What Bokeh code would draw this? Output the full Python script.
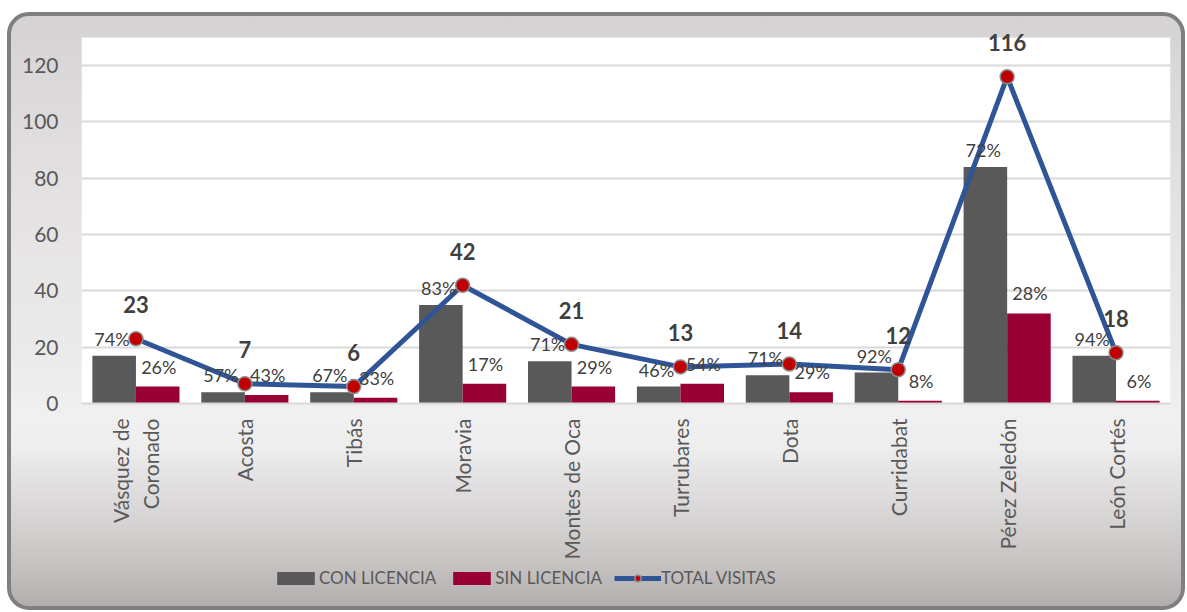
import math
from bokeh.plotting import figure
from bokeh.layouts import column
from bokeh.models import (ColumnDataSource, FactorRange, Range1d, FixedTicker,
                          BoxAnnotation, Legend, LegendItem, LabelSet, InlineStyleSheet)
from bokeh.transform import dodge
from bokeh.core.properties import value
from bokeh.embed import file_html
from bokeh.resources import INLINE

# ---------------- data ----------------
categories = ["Vásquez de\nCoronado", "Acosta", "Tibás", "Moravia", "Montes de Oca",
              "Turrubares", "Dota", "Curridabat", "Pérez Zeledón", "León Cortés"]
con_licencia = [17, 4, 4, 35, 15, 6, 10, 11, 84, 17]
sin_licencia = [6, 3, 2, 7, 6, 7, 4, 1, 32, 1]
total_visitas = [23, 7, 6, 42, 21, 13, 14, 12, 116, 18]
pct_con = ["74%", "57%", "67%", "83%", "71%", "46%", "71%", "92%", "72%", "94%"]
pct_sin = ["26%", "43%", "33%", "17%", "29%", "54%", "29%", "8%", "28%", "6%"]
y_ticks = [0, 20, 40, 60, 80, 100, 120]
y_top = 130
series_names = ["CON LICENCIA", "SIN LICENCIA", "TOTAL VISITAS"]

# colours
C_CON, C_SIN, C_LINE, C_PT = "#595959", "#990033", "#2f5597", "#c00000"

# ---------------- main figure ----------------
W = 1187
p = figure(x_range=FactorRange(*categories, range_padding=0),
           y_range=Range1d(0, 136),
           width=W, height=564,
           min_border_left=81, min_border_right=17, min_border_top=20, min_border_bottom=161,
           output_backend="svg", toolbar_location=None,
           background_fill_color=None, border_fill_color=None,
           outline_line_color=None)

# white plot area
p.add_layout(BoxAnnotation(top=y_top, level="image", fill_color="white",
                           fill_alpha=1, line_color=None))

# axes & grid
p.yaxis.ticker = FixedTicker(ticks=y_ticks)
p.yaxis.axis_line_color = None
p.yaxis.major_tick_line_color = None
p.yaxis.minor_tick_line_color = None
p.yaxis.major_tick_out = 0
p.yaxis.major_tick_in = 0
p.yaxis.major_label_text_font = "Lato"
p.yaxis.major_label_text_font_size = "21px"
p.yaxis.major_label_text_color = "#595959"
p.yaxis.major_label_standoff = 23

p.xaxis.major_label_orientation = math.pi / 2
p.xaxis.axis_line_color = "#d9d9d9"
p.xaxis.axis_line_width = 2
p.xaxis.major_tick_line_color = None
p.xaxis.minor_tick_line_color = None
p.xaxis.major_tick_out = 0
p.xaxis.major_tick_in = 0
p.xaxis.major_label_text_font = "Lato"
p.xaxis.major_label_text_font_size = "21px"
p.xaxis.major_label_text_color = "#595959"
p.xaxis.major_label_standoff = 15

p.xgrid.grid_line_color = None
p.ygrid.grid_line_color = "#d9d9d9"
p.ygrid.grid_line_width = 2

# glyphs
src = ColumnDataSource(dict(cat=categories, con=con_licencia, sin=sin_licencia,
                            total=total_visitas, pc=pct_con, ps=pct_sin))

p.vbar(x=dodge("cat", -0.2, range=p.x_range), top="con", width=0.4,
       source=src, fill_color=C_CON, line_color=None)
p.vbar(x=dodge("cat", 0.2, range=p.x_range), top="sin", width=0.4,
       source=src, fill_color=C_SIN, line_color=None)
p.line(x="cat", y="total", source=src, line_color=C_LINE, line_width=5)
p.scatter(x="cat", y="total", source=src, size=14, fill_color=C_PT,
          line_color="#8c8c8c", line_width=1.5)

# labels
lato = value("Lato")
p.add_layout(LabelSet(x=dodge("cat", -0.22, range=p.x_range), y="con", text="pc",
                      y_offset=17, text_align="center", text_baseline="middle",
                      text_font=lato, text_font_size="18px", text_color="#404040",
                      source=src))
p.add_layout(LabelSet(x=dodge("cat", 0.21, range=p.x_range), y="sin", text="ps",
                      y_offset=20, text_align="center", text_baseline="middle",
                      text_font=lato, text_font_size="18px", text_color="#404040",
                      source=src))
p.add_layout(LabelSet(x="cat", y="total", text="total",
                      y_offset=34, text_align="center", text_baseline="middle",
                      text_font=lato, text_font_size="22px", text_font_style="bold",
                      text_color="#404040", source=src))

# ---------------- legend strip ----------------
lg = figure(width=W, height=48, x_range=Range1d(0, 1), y_range=Range1d(0, 1),
            x_axis_type=None, y_axis_type=None, min_border=0,
            output_backend="svg", toolbar_location=None,
            background_fill_color=None, border_fill_color=None,
            outline_line_color=None)
lg.grid.visible = False
# legend key renderers (zero-height / off-range, so only their legend swatches show)
key = ColumnDataSource(dict(x=[-5], y=[0]))
g_con = lg.vbar(x="x", top="y", width=0.01, source=key, fill_color=C_CON, line_color=None)
g_sin = lg.vbar(x="x", top="y", width=0.01, source=key, fill_color=C_SIN, line_color=None)
g_line = lg.line(x="x", y="y", source=key, line_color=C_LINE, line_width=5)
g_pt = lg.scatter(x="x", y="y", source=key, size=14, fill_color=C_PT,
                  line_color="#8c8c8c", line_width=1.5)
legend = Legend(items=[LegendItem(label=series_names[0], renderers=[g_con]),
                       LegendItem(label=series_names[1], renderers=[g_sin]),
                       LegendItem(label=series_names[2], renderers=[g_line, g_pt])],
                orientation="horizontal", location=(191, 24),
                glyph_width=47, glyph_height=16, label_standoff=0, spacing=12,
                padding=0, margin=0, border_line_color=None,
                background_fill_alpha=0,
                label_text_font="Lato", label_text_font_size="17px",
                label_text_color="#595959")
lg.add_layout(legend)

# ---------------- page layout with rounded gradient panel ----------------
gradient = ("linear-gradient(to bottom, #d5d2d3 0%, #dad7d8 8%, #e1dedf 23%, "
            "#e7e5e6 40%, #ebeaea 56%, #f0f0f0 68%, #eeeeee 73%, #e0dede 80%, "
            "#d3d0d0 87%, #c6c2c2 93%, #b2aead 100%)")
css = (":host { position: relative; }\n"
       ":host::before { content: ''; position: absolute; left: 7px; top: 12px; "
       "width: 1178px; height: 598px; box-sizing: border-box; "
       "border: 4px solid #7f7f7f; border-radius: 22px; background: " + gradient + "; }")
page = column(p, lg, spacing=0)
page.stylesheets = [InlineStyleSheet(css=css)]

open("out.html", "w").write(file_html(page, INLINE))
